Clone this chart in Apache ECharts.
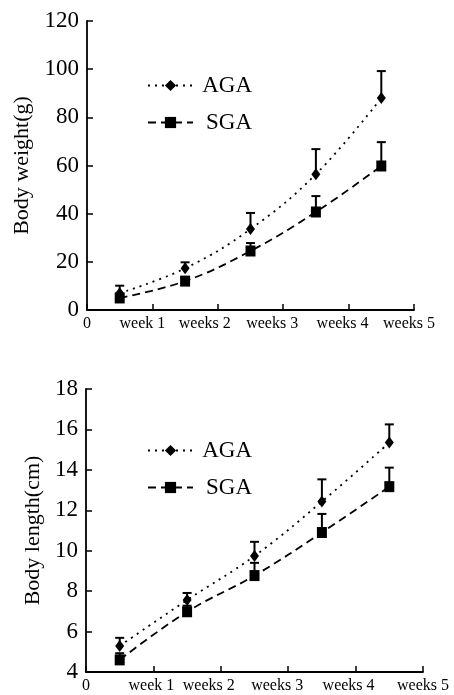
<!DOCTYPE html>
<html>
<head>
<meta charset="utf-8">
<script src="https://cdn.jsdelivr.net/npm/echarts@6/dist/echarts.min.js"></script>
<style>html,body{margin:0;padding:0;background:#fff}#c{width:454px;height:695px}</style>
</head>
<body>
<div id="c"></div>
<script>
// ---- data ----
const weeks = [0.5, 1.5, 2.5, 3.5, 4.5];
const xTickLabels = ['0', 'week 1', 'weeks 2', 'weeks 3', 'weeks 4', 'weeks 5'];
const weightAGA = [7, 17.3, 33.6, 56.4, 88];
const weightAGAErr = [3.1, 2.5, 6.7, 10.4, 11.2];
const weightSGA = [5, 12, 24.5, 40.7, 59.8];
const weightSGAErr = [1.2, 1.2, 3.3, 6.6, 9.9];
const lengthAGA = [5.29, 7.56, 9.74, 12.43, 15.35];
const lengthAGAErr = [0.4, 0.35, 0.7, 1.1, 0.9];
const lengthSGA = [4.6, 6.98, 8.77, 10.9, 13.17];
const lengthSGAErr = [0.33, 0.3, 0.63, 0.92, 0.94];

const FONT = '"Liberation Serif", "Times New Roman", serif';
const zip = (xs, ys) => xs.map((x, i) => [x, ys[i]]);
const zip3 = (xs, ys, es) => xs.map((x, i) => [x, ys[i], es[i]]);

function errSeries(axisIdx, means, errs) {
  return {
    type: 'custom', xAxisIndex: axisIdx, yAxisIndex: axisIdx, z: 1,
    data: zip3(weeks, means, errs),
    renderItem: function (params, api) {
      const x = api.value(0), m = api.value(1), e = api.value(2);
      const p0 = api.coord([x, m]);
      const p1 = api.coord([x, m + e]);
      const hw = 4.5;
      const st = { stroke: '#000', lineWidth: 2 };
      return {
        type: 'group',
        children: [
          { type: 'line', shape: { x1: p0[0], y1: p0[1], x2: p1[0], y2: p1[1] }, style: st },
          { type: 'line', shape: { x1: p1[0] - hw, y1: p1[1], x2: p1[0] + hw, y2: p1[1] }, style: st }
        ]
      };
    }
  };
}
function lineSeries(name, axisIdx, means, symbol, size, dash) {
  return {
    name: name, type: 'line', xAxisIndex: axisIdx, yAxisIndex: axisIdx, z: 3,
    data: zip(weeks, means), smooth: 0.4,
    symbol: symbol, symbolSize: size, showSymbol: true,
    itemStyle: { color: '#000' },
    lineStyle: { color: '#000', width: 1.8, type: dash },
    emphasis: { disabled: true }
  };
}

function xAxis(gridIdx, offsets) {
  const rich = {};
  offsets.forEach((o, i) => {
    rich['l' + i] = { fontSize: 16, fontFamily: FONT, color: '#000', padding: [0, 2 * o, 0, 0] };
  });
  return {
    type: 'value', gridIndex: gridIdx, min: 0, max: 5, interval: 1,
    axisLine: { show: true, lineStyle: { color: '#000', width: 1.8 } },
    axisTick: { show: true, inside: true, length: 6, lineStyle: { color: '#000', width: 1.5 } },
    splitLine: { show: false },
    axisLabel: {
      margin: 6,
      formatter: function (v) { const i = Math.round(v); return '{l' + i + '|' + xTickLabels[i] + '}'; },
      rich: rich
    }
  };
}
function yAxis(gridIdx, name, min, max, interval, gap) {
  return {
    type: 'value', gridIndex: gridIdx, min: min, max: max, interval: interval,
    name: name, nameLocation: 'middle', nameGap: gap,
    nameTextStyle: { fontSize: 22, fontFamily: FONT, color: '#000' },
    axisLine: { show: true, lineStyle: { color: '#000', width: 1.8 } },
    axisTick: { show: true, inside: true, length: 6, lineStyle: { color: '#000', width: 1.5 } },
    splitLine: { show: false },
    axisLabel: { fontSize: 23, fontFamily: FONT, color: '#000', margin: 8 }
  };
}
function legend(top) {
  return {
    data: ['AGA', 'SGA'], orient: 'vertical', left: 142, top: top,
    itemWidth: 45, itemHeight: 14, itemGap: 14,
    selectedMode: false,
    formatter: '{a|{name}}',
    textStyle: {
      rich: { a: { fontSize: 23, fontFamily: FONT, color: '#000', width: 54, align: 'right', lineHeight: 22 } }
    }
  };
}

const chart = echarts.init(document.getElementById('c'), null, { renderer: 'canvas' });
chart.setOption({
  animation: false,
  backgroundColor: '#fff',
  grid: [
    { left: 87, right: 40, top: 21, height: 289 },
    { left: 86, right: 31, top: 389, height: 283 }
  ],
  xAxis: [xAxis(0, [0, 10, 13, 11, 6, 5]), xAxis(1, [0, 2, 12, 11, 7, 0])],
  yAxis: [
    yAxis(0, 'Body weight(g)', 0, 120, 20, 54),
    yAxis(1, 'Body length(cm)', 4, 18, 2, 41)
  ],
  legend: [legend(69), legend(434)],
  series: [
    errSeries(0, weightAGA, weightAGAErr),
    errSeries(0, weightSGA, weightSGAErr),
    lineSeries('AGA', 0, weightAGA, 'diamond', [9, 12], [2, 5]),
    lineSeries('SGA', 0, weightSGA, 'rect', [10, 11], [8, 5]),
    errSeries(1, lengthAGA, lengthAGAErr),
    errSeries(1, lengthSGA, lengthSGAErr),
    lineSeries('AGA', 1, lengthAGA, 'diamond', [9, 12], [2, 5]),
    lineSeries('SGA', 1, lengthSGA, 'rect', [10, 11], [8, 5])
  ]
});
</script>
</body>
</html>
